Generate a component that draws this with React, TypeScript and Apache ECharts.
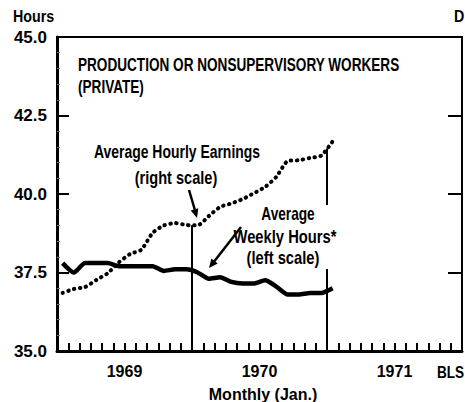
import React, { useEffect, useRef } from "react";
import * as echarts from "echarts";

// Months since Jan 1969; each value is plotted at mid-month
const monthLabels = [
  "Jan 1969", "Feb 1969", "Mar 1969", "Apr 1969", "May 1969", "Jun 1969",
  "Jul 1969", "Aug 1969", "Sep 1969", "Oct 1969", "Nov 1969", "Dec 1969",
  "Jan 1970", "Feb 1970", "Mar 1970", "Apr 1970", "May 1970", "Jun 1970",
  "Jul 1970", "Aug 1970", "Sep 1970", "Oct 1970", "Nov 1970", "Dec 1970",
  "Jan 1971",
];
// Average weekly hours (left scale)
const weeklyHours = [
  37.8, 37.5, 37.8, 37.8, 37.8, 37.7, 37.7, 37.7, 37.7, 37.55, 37.6, 37.6,
  37.5, 37.3, 37.35, 37.2, 37.15, 37.15, 37.25, 37.05, 36.8, 36.8, 36.85, 36.85,
  37.0,
];
// Average hourly earnings, dollars (right scale)
const hourlyEarnings = [
  2.948, 2.958, 2.963, 2.981, 2.998, 3.026, 3.047, 3.058, 3.101, 3.12, 3.126, 3.121,
  3.12, 3.144, 3.167, 3.176, 3.187, 3.202, 3.218, 3.244, 3.284, 3.286, 3.292, 3.298,
  3.334,
];
const yearLabels = ["1969", "1970", "1971"];
const hoursTicks = [35.0, 37.5, 40.0, 42.5, 45.0];
const dollarRange = [2.8, 3.6];

const SANS = "'Liberation Sans', Arial, sans-serif";

export default function App() {
  const ref = useRef<HTMLDivElement>(null);
  useEffect(() => {
    document.body.style.margin = "0";
    const chart = echarts.init(ref.current!, null, { renderer: "svg" });
    const hoursData = weeklyHours.map((v, i) => [i + 0.5, v]);
    const earnData = hourlyEarnings.map((v, i) => [i + 0.5, v]);
    const yearLine = (m: number) => [
      { coord: [m, dollarRange[0]] },
      { coord: [m, (hourlyEarnings[m - 1] + hourlyEarnings[m]) / 2] },
    ];
    const txt = (text: string, x: number, y: number, align: string, fs: number, sx = 1) => ({
      type: "text",
      x,
      y,
      scaleX: sx,
      z: 100,
      style: { text, fill: "#000", font: `bold ${fs}px ${SANS}`, textAlign: align, textVerticalAlign: "top" },
    });
    chart.setOption({
      animation: false,
      backgroundColor: "#fff",
      grid: { left: 57, right: -3, top: 37, bottom: 51, show: true, borderColor: "#000", borderWidth: 2 },
      xAxis: {
        type: "value",
        min: 0,
        max: 36,
        interval: 1,
        axisLine: { onZero: false, lineStyle: { color: "#000", width: 3 } },
        axisTick: { inside: true, length: 8, lineStyle: { color: "#000", width: 2 } },
        axisLabel: {
          margin: 12,
          color: "#000",
          fontSize: 16,
          fontWeight: "bold",
          fontFamily: SANS,
          formatter: (v: number) => {
            const k = Math.round(v);
            return k % 12 === 6 ? yearLabels[(k - 6) / 12] : "";
          },
        },
        splitLine: { show: false },
      },
      yAxis: [
        {
          type: "value",
          min: hoursTicks[0],
          max: hoursTicks[hoursTicks.length - 1],
          interval: 2.5,
          axisLine: { show: true, onZero: false, lineStyle: { color: "#000", width: 3 } },
          axisTick: { show: true, inside: true, length: 12, lineStyle: { color: "#000", width: 2 } },
          minorTick: { show: true, splitNumber: 5, length: 3, lineStyle: { color: "#777", width: 1 } },
          axisLabel: {
            margin: 10,
            color: "#000",
            fontSize: 17,
            fontWeight: "bold",
            fontFamily: SANS,
            formatter: (v: number) => v.toFixed(1),
          },
          splitLine: { show: false },
        },
        {
          type: "value",
          position: "right",
          min: dollarRange[0],
          max: dollarRange[1],
          interval: 0.2,
          axisLine: { show: true, onZero: false, lineStyle: { color: "#000", width: 2 } },
          axisTick: { show: true, inside: true, length: 14, lineStyle: { color: "#000", width: 2 } },
          axisLabel: { show: false },
          splitLine: { show: false },
        },
      ],
      series: [
        {
          name: "Average Weekly Hours",
          type: "line",
          yAxisIndex: 0,
          data: hoursData,
          symbol: "none",
          smooth: 0.2,
          z: 3,
          lineStyle: { color: "#000", width: 4.5 },
        },
        {
          name: "Average Hourly Earnings",
          type: "line",
          yAxisIndex: 1,
          data: earnData,
          symbol: "none",
          smooth: 0.2,
          z: 3,
          lineStyle: { color: "#000", width: 4, type: [0.5, 5.5], cap: "round" },
          markLine: {
            silent: true,
            symbol: "none",
            label: { show: false },
            lineStyle: { color: "#000", width: 2, type: "solid" },
            data: [yearLine(12), yearLine(24)],
          },
        },
      ],
      graphic: [
        txt("Hours", 13, 8, "left", 17, 0.84),
        txt("D", 454, 8, "left", 17, 0.84),
        txt("PRODUCTION OR NONSUPERVISORY WORKERS", 78, 56, "left", 18, 0.755),
        txt("(PRIVATE)", 78, 78, "left", 18, 0.755),
        txt("Average Hourly Earnings", 177, 142, "center", 18, 0.775),
        txt("(right scale)", 176, 168, "center", 18, 0.81),
        { type: "rect", z: 90, shape: { x: 236, y: 205, width: 104, height: 64 }, style: { fill: "#fff" } },
        txt("Average", 288, 205, "center", 18, 0.76),
        txt("Weekly Hours*", 285, 227, "center", 18, 0.82),
        txt("(left scale)", 283, 248, "center", 18, 0.82),
        { type: "line", z: 100, shape: { x1: 189, y1: 190, x2: 195.5, y2: 212 }, style: { stroke: "#000", lineWidth: 2.5 } },
        { type: "polygon", z: 100, shape: { points: [[197, 218], [198.3, 208.2], [190.7, 210.4]] }, style: { fill: "#000" } },
        { type: "line", z: 100, shape: { x1: 241, y1: 227, x2: 213, y2: 263 }, style: { stroke: "#000", lineWidth: 2.5 } },
        { type: "polygon", z: 100, shape: { points: [[209, 268], [217.7, 263.4], [211.4, 258.4]] }, style: { fill: "#000" } },
        txt("Monthly (Jan.)", 263, 386, "center", 16),
        txt("BLS", 437, 365, "left", 16, 0.85),
      ],
    });
    return () => chart.dispose();
  }, []);
  return <div ref={ref} style={{ position: "absolute", left: 0, top: 0, width: 465, height: 402 }} />;
}
